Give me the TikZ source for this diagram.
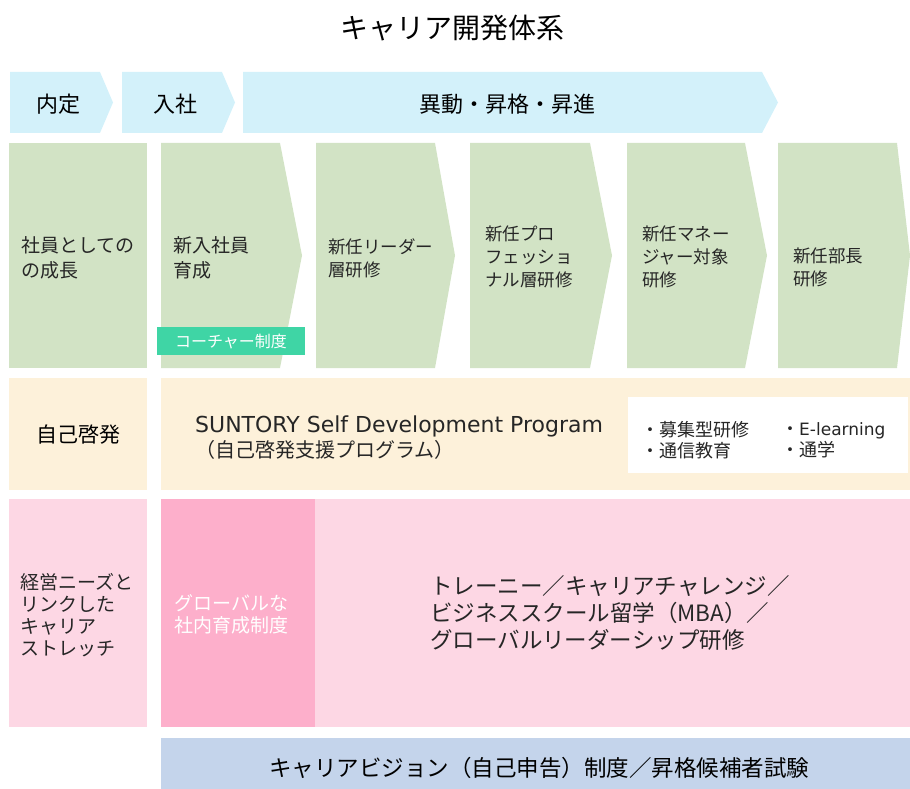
\documentclass[tikz,border=0pt]{standalone}
\usepackage{fontspec}
\setmainfont{Noto Sans CJK JP}
\newfontfamily\latinfont{DejaVu Sans}

\definecolor{stageblue}{HTML}{D3F1FA}
\definecolor{traingreen}{HTML}{D2E3C5}
\definecolor{coachteal}{HTML}{3FD5A5}
\definecolor{selfcream}{HTML}{FDF1DA}
\definecolor{stretchpink}{HTML}{FDD7E4}
\definecolor{globalpink}{HTML}{FDAFCB}
\definecolor{visionblue}{HTML}{C4D4EB}

\tikzset{
    txt/.style={inner sep=0pt, align=left, anchor=west, text=black!85},
    big/.style={font=\fontsize{19}{25}\selectfont},
    small/.style={font=\fontsize{17.5}{23}\selectfont}
}

\begin{document}
\begin{tikzpicture}[x=1pt, y=-1pt]
            \useasboundingbox (0,0) rectangle (910,789);
            \node[inner sep=0pt, font=\fontsize{28}{30}\selectfont] (title) at (452,28) {キャリア開発体系};

            % 上段
            \fill[stageblue] (10,72) -- (100,72) -- (113,102.5) -- (100,133) -- (10,133) -- cycle;
            \fill[stageblue] (122,72) -- (222,72) -- (235,102.5) -- (222,133) -- (122,133) -- cycle;
            \fill[stageblue] (243,72) -- (762,72) -- (778,102.5) -- (762,133) -- (243,133) -- cycle;
            \node[inner sep=0pt, font=\fontsize{22}{24}\selectfont] (naitei) at (58,104) {内定};
            \node[inner sep=0pt, font=\fontsize{22}{24}\selectfont] (nyusha) at (175,104) {入社};
            \node[inner sep=0pt, font=\fontsize{22}{24}\selectfont] (ido) at (507,104) {異動・昇格・昇進};

            % 研修
            \fill[traingreen] (9,143) rectangle (147,368);
            \foreach \l/\r/\t in {161/280/302, 316/435/455, 470/590/612, 627/745/767, 778/897/910}
                \fill[traingreen] (\l,143) -- (\r,143) -- (\t,255.5) -- (\r,368) -- (\l,368) -- cycle;
            \node[txt, big] (growth) at (21,257.5) {社員としての\\の成長};
            \node[txt, big] (newhire) at (173,257.5) {新入社員\\育成};
            \node[txt, small] (leader) at (328,258.5) {新任リーダー\\層研修};
            \node[txt, small] (pro) at (485,256.5) {新任プロ\\フェッショ\\ナル層研修};
            \node[txt, small] (manager) at (642,256.5) {新任マネー\\ジャー対象\\研修};
            \node[txt, small] (chief) at (793,267.5) {新任部長\\研修};
            \node[fill=coachteal, text=white, minimum width=148pt, minimum height=28pt, inner sep=0pt,
                font=\fontsize{16}{18}\selectfont] (coach) at (231,341) {コーチャー制度};

            % 自己啓発
            \fill[selfcream] (9,378) rectangle (147,490);
            \fill[selfcream] (161,378) rectangle (910,490);
            \fill[white] (628,397) rectangle (908,473);
            \node[inner sep=0pt, font=\fontsize{21}{23}\selectfont] (selfdev) at (78,435) {自己啓発};
            \node[txt, font=\fontsize{20}{25}\selectfont] (sdp) at (195,437.5)
                {{\latinfont\fontsize{22}{25}\selectfont SUNTORY Self Development Program}\\（自己啓発支援プログラム）};
            \node[txt, font=\fontsize{18}{21}\selectfont] (menu1) at (641,440) {・募集型研修\\・通信教育};
            \node[txt, font=\fontsize{18}{21}\selectfont] (menu2) at (781,440) {・{\latinfont\fontsize{17}{21}\selectfont E-learning}\\・通学};

            % ストレッチ
            \fill[stretchpink] (9,499) rectangle (147,727);
            \fill[globalpink] (161,499) rectangle (315,727);
            \fill[stretchpink] (315,499) rectangle (910,727);
            \node[txt, font=\fontsize{19}{22}\selectfont] (stretch) at (20,615.5) {経営ニーズと\\リンクした\\キャリア\\ストレッチ};
            \node[txt, text=white, font=\fontsize{19}{22}\selectfont] (global) at (174,614) {グローバルな\\社内育成制度};
            \node[txt, font=\fontsize{22.5}{27}\selectfont] (programs) at (430,613)
                {トレーニー／キャリアチャレンジ／\\ビジネススクール留学（MBA）／\\グローバルリーダーシップ研修};

            % 下段
            \fill[visionblue] (161,738) rectangle (910,789);
            \node[inner sep=0pt, font=\fontsize{22.5}{24}\selectfont] (vision) at (539,768)
                {キャリアビジョン（自己申告）制度／昇格候補者試験};
        \end{tikzpicture}
\end{document}
